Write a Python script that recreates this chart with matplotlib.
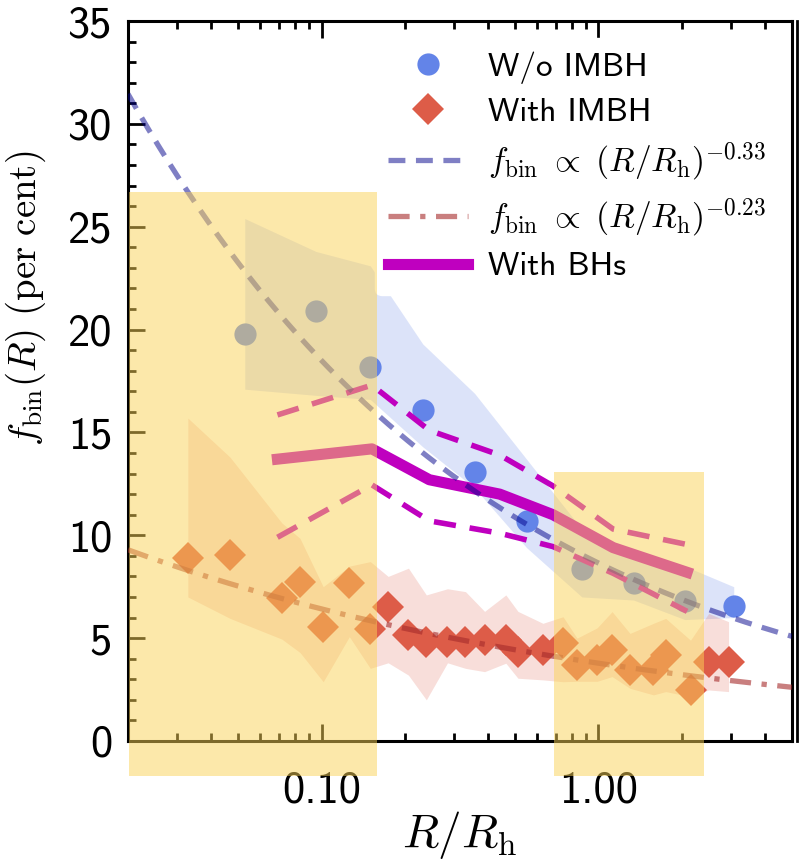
import matplotlib
matplotlib.use('Agg')
import matplotlib.pyplot as plt
from matplotlib.patches import Rectangle
from matplotlib.lines import Line2D
from matplotlib.ticker import MultipleLocator, FormatStrFormatter, NullFormatter, LogLocator
import numpy as np

plt.rcParams['font.family'] = ['cmss10', 'DejaVu Sans']
plt.rcParams['mathtext.fontset'] = 'cm'
plt.rcParams['axes.unicode_minus'] = False

# W/o IMBH (circles) + scatter band
wo_x = [0.0528, 0.0954, 0.150, 0.232, 0.357, 0.550, 0.871, 1.339, 2.05, 3.08]
wo_y = [19.8, 20.9, 18.2, 16.1, 13.1, 10.7, 8.35, 7.7, 6.8, 6.55]
wo_hi = [25.4, 23.8, 23.1, 19.3, 16.9, 13.7, 10.3, 9.3, 8.5, 7.5]
wo_lo = [17.1, 16.8, 16.6, 14.3, 12.3, 9.4, 7.0, 6.85, 5.9, 6.0]

# With IMBH (diamonds) + scatter band
w_x = [0.0329, 0.0467, 0.0719, 0.0836, 0.1014, 0.126, 0.150, 0.174, 0.206,
       0.239, 0.285, 0.331, 0.388, 0.463, 0.512, 0.630, 0.745, 0.837, 0.989,
       1.12, 1.30, 1.58, 1.75, 2.15, 2.50, 2.95]
w_y = [8.9, 9.04, 6.94, 7.75, 5.56, 7.67, 5.45, 6.53, 5.15,
       4.83, 4.83, 4.83, 4.91, 4.91, 4.34, 4.42, 4.75, 3.69, 3.94,
       4.42, 3.45, 3.45, 4.18, 2.48, 3.86, 3.86]
w_hi = [15.7, 13.8, 10.6, 9.85, 7.5, 8.5, 8.72, 8.0, 8.4,
        7.1, 7.4, 7.26, 6.3, 7.1, 6.3, 5.72, 6.04, 5.0, 5.5,
        6.29, 5.23, 5.72, 5.96, 4.9, 6.2, 5.8]
w_lo = [7.0, 5.96, 4.95, 4.3, 2.88, 5.07, 3.53, 3.8, 3.2,
        2.0, 3.8, 3.53, 3.37, 3.78, 3.05, 2.97, 2.88, 2.9, 2.9,
        3.13, 2.56, 2.24, 2.4, 2.15, 2.48, 2.4]

# With BHs
bh_x = [0.0693, 0.152, 0.245, 0.44, 0.685, 1.13, 2.09]
bh_mid = [13.7, 14.2, 12.7, 12.0, 11.0, 9.4, 8.2]
bh_hi = [15.85, 17.3, 15.1, 13.9, 12.4, 10.3, 9.55]
bh_lo = [9.9, 12.45, 10.7, 10.1, 9.45, 8.15, 6.3]

# power-law fits
fit_amp = [8.65, 3.78]
fit_slope = [-0.33, -0.23]

# highlighted x ranges
hl_x = [(0.0201, 0.158), (0.693, 2.40)]
hl_top = [26.7, 13.1]

blue = '#6384E8'
red = '#DD5C48'
mag = '#BF00BF'

fig = plt.figure(figsize=(8, 8.61), dpi=100)
ax = fig.add_axes([0.16, 0.1394, 0.83, 0.8362])

ax.fill_between(wo_x, wo_lo, wo_hi, color='royalblue', alpha=0.18, lw=0, zorder=1)
ax.fill_between(w_x, w_lo, w_hi, color=red, alpha=0.2, lw=0, zorder=1)

ax.plot(wo_x, wo_y, 'o', color=blue, ms=16, mew=0, zorder=3, label='W/o IMBH')
ax.plot(w_x, w_y, 'D', color=red, ms=16, mew=0, zorder=3, label='With IMBH')

xx = np.logspace(np.log10(0.02), np.log10(5), 200)
ax.plot(xx, fit_amp[0] * xx ** fit_slope[0], ls=(0, (3.2, 2)), color='darkblue', alpha=0.5,
        lw=3.8, zorder=5, label=r'$f_{\rm bin}\ \propto\ (R/R_{\rm h})^{-0.33}$')
ax.plot(xx, fit_amp[1] * xx ** fit_slope[1], ls=(0, (4, 2, 1, 2)), color='brown', alpha=0.6,
        lw=3.8, zorder=5, label=r'$f_{\rm bin}\ \propto\ (R/R_{\rm h})^{-0.23}$')

ax.plot(bh_x, bh_mid, '-', color=mag, lw=8, zorder=4, label='With BHs')
ax.plot(bh_x, bh_hi, '--', color=mag, lw=4, zorder=4, dashes=(4, 2.5))
ax.plot(bh_x, bh_lo, '--', color=mag, lw=4, zorder=4, dashes=(4, 2.5))

for (x0, x1), top in zip(hl_x, hl_top):
    ax.add_patch(Rectangle((x0, -1.7), x1 - x0, top + 1.7, color='#FBD357', alpha=0.5,
                           lw=0, clip_on=False, zorder=20))

ax.set_xscale('log')
ax.set_xlim(0.02, 5)
ax.set_ylim(0, 35)
ax.xaxis.set_major_locator(LogLocator(base=10, numticks=10))
ax.xaxis.set_major_formatter(FormatStrFormatter('%.2f'))
ax.xaxis.set_minor_formatter(NullFormatter())
ax.yaxis.set_major_locator(MultipleLocator(5))
ax.yaxis.set_minor_locator(MultipleLocator(1))

ax.tick_params(which='both', direction='in', top=True, right=False, width=2)
ax.tick_params(which='major', length=12, labelsize=32)
ax.tick_params(which='minor', length=6)
ax.tick_params(axis='x', which='major', pad=21)
ax.tick_params(axis='y', which='major', pad=11.5)
for s in ax.spines.values():
    s.set_linewidth(2.2)

ax.set_xlabel(r'$R/R_{\rm h}$', fontsize=34)
ax.set_ylabel(r'$f_{\rm bin}(R)\ ({\rm per\ cent})$', fontsize=28)
ax.xaxis.set_label_coords(0.5, -0.095)
ax.yaxis.set_label_coords(-0.12, 0.615)

leg = ax.legend(loc='upper left', bbox_to_anchor=(0.372, 0.976), fontsize=24,
                frameon=True, fancybox=True, framealpha=1, edgecolor='white',
                handlelength=2.4, handletextpad=0.6, labelspacing=0.4,
                borderaxespad=0, borderpad=0.4)

fig.add_artist(Line2D([0.9965, 0.9965], [0.1394, 0.9756], color='black', lw=2))

fig.savefig('out.png', dpi=100)
